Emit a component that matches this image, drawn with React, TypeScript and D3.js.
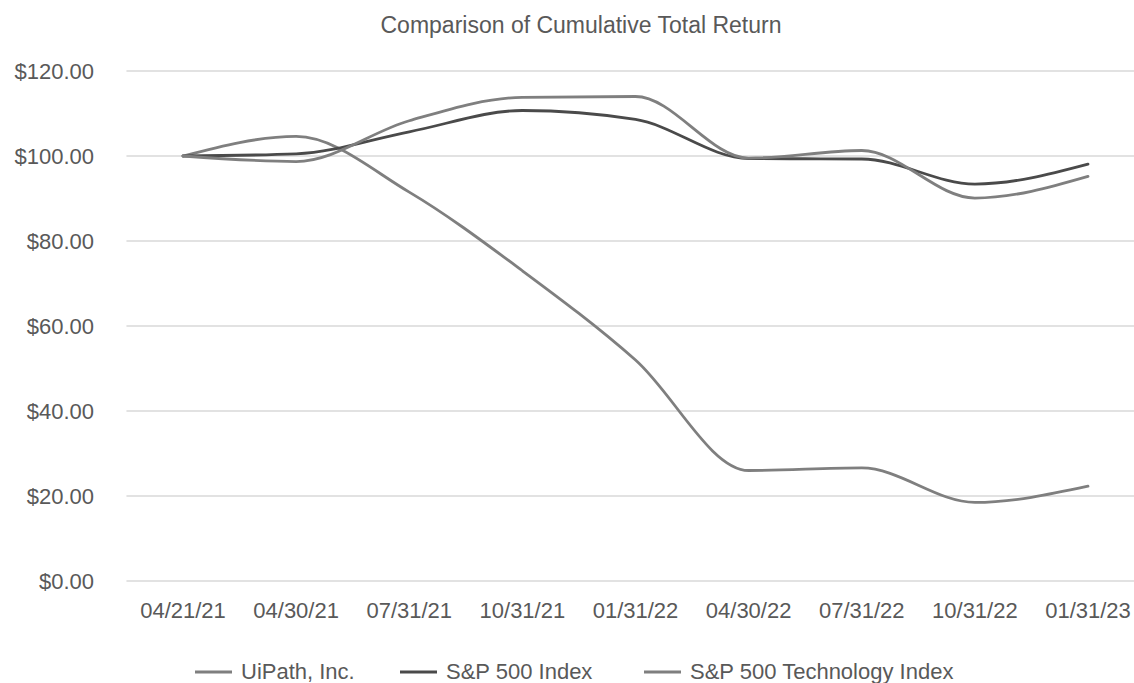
import React from "react";
import * as d3 from "d3";

const dates = ["04/21/21", "04/30/21", "07/31/21", "10/31/21", "01/31/22", "04/30/22", "07/31/22", "10/31/22", "01/31/23"];
const uipath = [100, 104.6, 91.5, 73, 52, 26, 26.6, 18.5, 22.3];
const sp500 = [100, 100.5, 105.7, 110.7, 108.6, 99.4, 99.3, 93.4, 98.1];
const spTech = [100, 98.7, 108.3, 113.8, 114, 99.5, 101.3, 90.1, 95.2];
const yTicks = [0, 20, 40, 60, 80, 100, 120];

const series = [
  { name: "UiPath, Inc.", values: uipath, color: "#7f7f7f" },
  { name: "S&P 500 Index", values: sp500, color: "#4a4a4a" },
  { name: "S&P 500 Technology Index", values: spTech, color: "#7f7f7f" },
];

const legendX = [195, 400, 644];

const W = 1134,
  H = 683;
const font = "'Liberation Sans', Arial, sans-serif";
const textColor = "#595959";

export default function App() {
  const x = d3.scalePoint<string>().domain(dates).range([183, 1088]);
  const y = d3.scaleLinear().domain([0, 120]).range([581, 71]);
  const step = x.step();
  const left = (x(dates[0]) as number) - step / 2;

  const line = d3
    .line<number>()
    .x((_, i) => x(dates[i]) as number)
    .y((d) => y(d))
    .curve(d3.curveMonotoneX);

  return (
    <svg width={W} height={H} style={{ position: "absolute", left: 0, top: 0, background: "#fff" }} fontFamily={font}>
      <text x={581} y={33} textAnchor="middle" fontSize={23} fill={textColor}>
        Comparison of Cumulative Total Return
      </text>

      {/* grid + y labels */}
      {yTicks.map((t) => (
        <g key={t}>
          <line x1={left} x2={W} y1={y(t)} y2={y(t)} stroke="#d9d9d9" strokeWidth={1.6} />
          <text x={94} y={y(t)} dy="0.36em" textAnchor="end" fontSize={22} fill={textColor}>
            {"$" + t.toFixed(2)}
          </text>
        </g>
      ))}

      {/* x labels */}
      {dates.map((d) => (
        <text key={d} x={x(d)} y={618} textAnchor="middle" fontSize={22} fill={textColor}>
          {d}
        </text>
      ))}

      {series.map((s) => (
        <path key={s.name} d={line(s.values) || ""} fill="none" stroke={s.color} strokeWidth={2.8} strokeLinecap="round" />
      ))}

      {/* legend */}
      {series.map((s, i) => (
        <g key={s.name} transform={`translate(${legendX[i]},672)`}>
          <line x1={0} x2={37} y1={0} y2={0} stroke={s.color} strokeWidth={2.8} />
          <text x={46} y={7} fontSize={22} fill={textColor}>
            {s.name}
          </text>
        </g>
      ))}
    </svg>
  );
}
